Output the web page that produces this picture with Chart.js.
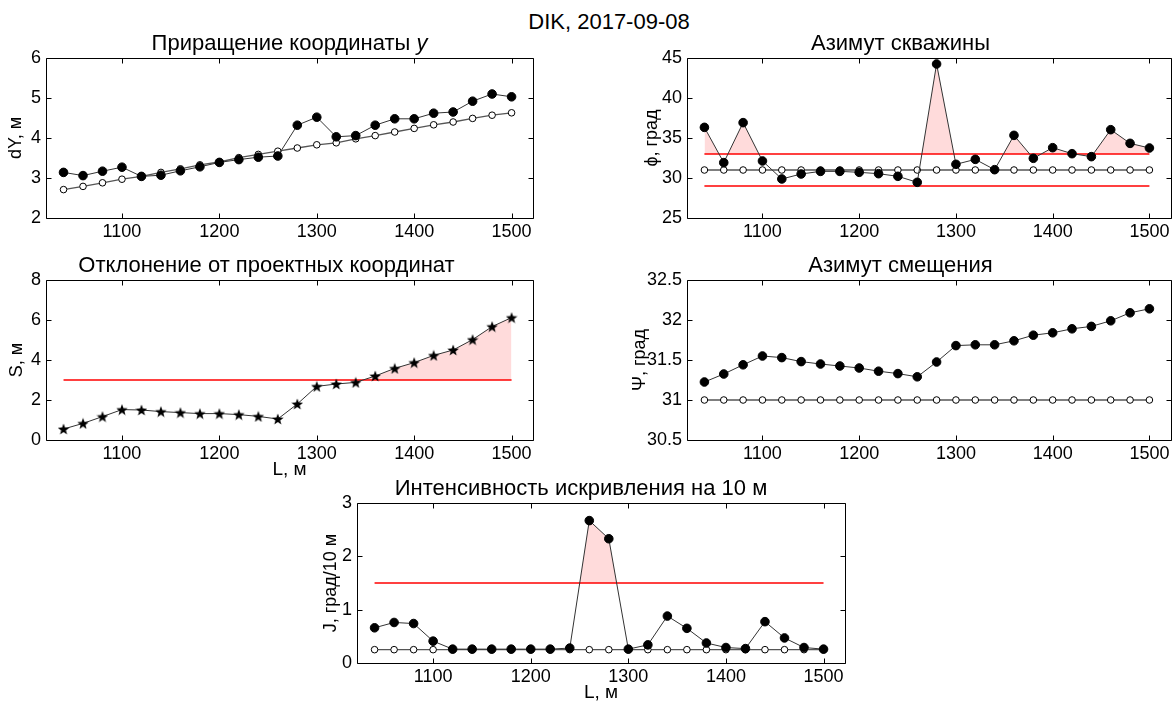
<!DOCTYPE html>
<html>
<head>
<meta charset="utf-8">
<script src="https://cdn.jsdelivr.net/npm/chart.js@4/dist/chart.umd.min.js"></script>
<style>
  html, body { margin: 0; padding: 0; background: #fff; }
  body { width: 1176px; height: 704px; position: relative; overflow: hidden; }
  canvas { position: absolute; }
  #mainTitle {
    position: absolute; left: 409px; top: 10px; width: 400px;
    text-align: center; font: 22px 'Liberation Sans', Arial, sans-serif;
    line-height: 24px; color: #000;
  }
</style>
</head>
<body>
<div id="mainTitle">DIK, 2017-09-08</div>
<canvas id="c1"></canvas>
<canvas id="c2"></canvas>
<canvas id="c3"></canvas>
<canvas id="c4"></canvas>
<canvas id="c5"></canvas>
<script>
// depth along the hole, m
const depth = [1040, 1060, 1080, 1100, 1120, 1140, 1160, 1180, 1200, 1220, 1240, 1260,
               1280, 1300, 1320, 1340, 1360, 1380, 1400, 1420, 1440, 1460, 1480, 1500];
const xTicks = [1100, 1200, 1300, 1400, 1500];

// increment of y coordinate, m
const dyActual = [3.14, 3.06, 3.17, 3.27, 3.04, 3.07, 3.18, 3.28, 3.39, 3.46, 3.52, 3.55,
                  4.32, 4.52, 4.03, 4.06, 4.32, 4.48, 4.48, 4.62, 4.65, 4.92, 5.10, 5.03];
const dyDesign = [2.71, 2.79, 2.88, 2.97, 3.04, 3.14, 3.23, 3.33, 3.40, 3.51, 3.59, 3.67,
                  3.75, 3.83, 3.88, 3.98, 4.06, 4.15, 4.24, 4.33, 4.40, 4.49, 4.57, 4.63];
const dyTicks = [2, 3, 4, 5, 6];

// hole azimuth, deg
const azActual = [36.33, 31.92, 36.92, 32.13, 29.88, 30.50, 30.83, 30.83, 30.71, 30.54, 30.21, 29.46,
                  44.25, 31.71, 32.33, 31.04, 35.33, 32.46, 33.79, 33.04, 32.67, 36.04, 34.33, 33.75];
const azDesign = [31, 31, 31, 31, 31, 31, 31, 31, 31, 31, 31, 31,
                  31, 31, 31, 31, 31, 31, 31, 31, 31, 31, 31, 31];
const azLow = 29;
const azHigh = 33;
const azTicks = [25, 30, 35, 40, 45];

// deviation from design coordinates, m
const sActual = [0.55, 0.83, 1.17, 1.52, 1.50, 1.42, 1.37, 1.32, 1.32, 1.27, 1.18, 1.05,
                 1.80, 2.68, 2.80, 2.88, 3.20, 3.58, 3.87, 4.23, 4.50, 5.02, 5.67, 6.12];
const sLimit = 3;
const sTicks = [0, 2, 4, 6, 8];

// displacement azimuth, deg
const psiActual = [31.225, 31.325, 31.44, 31.55, 31.53, 31.48, 31.45, 31.425, 31.40, 31.36, 31.33, 31.29,
                   31.475, 31.68, 31.69, 31.69, 31.74, 31.81, 31.84, 31.89, 31.92, 31.99, 32.09, 32.14];
const psiDesign = [31, 31, 31, 31, 31, 31, 31, 31, 31, 31, 31, 31,
                   31, 31, 31, 31, 31, 31, 31, 31, 31, 31, 31, 31];
const psiTicks = [30.5, 31, 31.5, 32, 32.5];

// dogleg intensity per 10 m
const jActual = [0.66, 0.76, 0.74, 0.41, 0.26, 0.26, 0.26, 0.26, 0.26, 0.26, 0.28, 2.67,
                 2.33, 0.26, 0.34, 0.88, 0.65, 0.375, 0.29, 0.27, 0.775, 0.47, 0.29, 0.26];
const jDesign = [0.25, 0.25, 0.25, 0.25, 0.25, 0.25, 0.25, 0.25, 0.25, 0.25, 0.25, 0.25,
                 0.25, 0.25, 0.25, 0.25, 0.25, 0.25, 0.25, 0.25, 0.25, 0.25, 0.25, 0.25];
const jLimit = 1.5;
const jTicks = [0, 1, 2, 3];

const FONT = "'Liberation Sans', Arial, sans-serif";
const PINK = 'rgba(255, 0, 0, 0.14)';
Chart.defaults.font.family = FONT;
Chart.defaults.color = '#000';

const pts = (vals) => depth.map((x, i) => ({ x, y: vals[i] }));
const limitLine = (v) => [{ x: depth[0], y: v }, { x: depth[depth.length - 1], y: v }];
const plainNum = (v) => String(v);

// filled pentagram marker
function makeStar(size) {
  const c = document.createElement('canvas');
  c.width = size; c.height = size;
  const g = c.getContext('2d');
  const cx = size / 2, cy = size / 2 + 0.6, ro = size / 2, ri = ro * 0.42;
  g.beginPath();
  for (let i = 0; i < 10; i++) {
    const r = i % 2 ? ri : ro;
    const a = -Math.PI / 2 + i * Math.PI / 5;
    g.lineTo(cx + r * Math.cos(a), cy + r * Math.sin(a));
  }
  g.closePath();
  g.fillStyle = '#000';
  g.fill();
  return c;
}
const starMarker = makeStar(12);

// axes box with inward ticks on all four sides
const frame = {
  id: 'frame',
  afterDatasetsDraw(chart) {
    const { ctx, chartArea: a, scales: { x, y } } = chart;
    const L = Math.round(a.left) + 0.5, R = Math.round(a.right) + 0.5;
    const T = Math.round(a.top) + 0.5, B = Math.round(a.bottom) + 0.5;
    ctx.save();
    ctx.strokeStyle = '#000';
    ctx.lineWidth = 1;
    ctx.beginPath();
    x.ticks.forEach(t => {
      const px = Math.round(x.getPixelForValue(t.value)) + 0.5;
      ctx.moveTo(px, B); ctx.lineTo(px, B - 5);
      ctx.moveTo(px, T); ctx.lineTo(px, T + 5);
    });
    y.ticks.forEach(t => {
      const py = Math.round(y.getPixelForValue(t.value)) + 0.5;
      ctx.moveTo(L, py); ctx.lineTo(L + 5, py);
      ctx.moveTo(R, py); ctx.lineTo(R - 5, py);
    });
    ctx.rect(L, T, R - L, B - T);
    ctx.stroke();
    ctx.restore();
  }
};

// panel title with an optional italic tail, centred over the axes
const panelTitle = {
  id: 'panelTitle',
  afterDraw(chart, args, opts) {
    if (!opts.parts) return;
    const { ctx, chartArea: a } = chart;
    ctx.save();
    ctx.fillStyle = '#000';
    ctx.textBaseline = 'middle';
    const fonts = opts.parts.map(p => (p.italic ? 'italic ' : '') + '22px ' + FONT);
    const widths = opts.parts.map((p, i) => { ctx.font = fonts[i]; return ctx.measureText(p.text).width; });
    let x = (a.left + a.right) / 2 - widths.reduce((s, w) => s + w, 0) / 2;
    const y = a.top - 14;
    opts.parts.forEach((p, i) => {
      ctx.font = fonts[i];
      ctx.textAlign = 'left';
      ctx.fillText(p.text, x, y);
      x += widths[i];
    });
    ctx.restore();
  }
};

function actualSet(vals, extra) {
  return Object.assign({
    data: pts(vals),
    borderColor: '#333',
    borderWidth: 1,
    pointStyle: 'circle',
    pointRadius: 4.3,
    pointBackgroundColor: '#000',
    pointBorderColor: '#000',
    pointBorderWidth: 1,
    fill: false,
    tension: 0
  }, extra || {});
}

function designSet(vals) {
  return {
    data: pts(vals),
    borderColor: '#555',
    borderWidth: 1.3,
    pointStyle: 'circle',
    pointRadius: 3.3,
    pointBackgroundColor: '#fff',
    pointBorderColor: '#000',
    pointBorderWidth: 1,
    fill: false,
    tension: 0
  };
}

function limitSet(v) {
  return {
    data: limitLine(v),
    borderColor: '#ff0000',
    borderWidth: 1.3,
    pointRadius: 0,
    fill: false
  };
}

function makePanel(id, box, title, yTitle, yTicks, datasets, xTitle) {
  const cv = document.getElementById(id);
  cv.width = box.w; cv.height = box.h;
  cv.style.left = box.left + 'px';
  cv.style.top = box.top + 'px';
  const rich = Array.isArray(title);
  return new Chart(cv, {
    type: 'line',
    data: { datasets },
    options: {
      responsive: false,
      animation: false,
      events: [],
      layout: { padding: { left: 0, right: box.right, top: rich ? 30 : 0, bottom: 0 } },
      plugins: {
        legend: { display: false },
        tooltip: { enabled: false },
        panelTitle: { parts: rich ? title : null },
        title: {
          display: !rich,
          text: rich ? '' : title,
          color: '#000',
          font: { size: 22, weight: 'normal', family: FONT },
          padding: { top: 2.8, bottom: 0.8 }
        }
      },
      scales: {
        x: {
          type: 'linear',
          min: 1022,
          max: 1522,
          grid: { display: false, drawTicks: false },
          border: { display: false },
          afterBuildTicks: (s) => { s.ticks = xTicks.map(v => ({ value: v })); },
          afterFit: (s) => { s.height = box.xH; },
          ticks: { padding: 3, font: { size: 18 }, color: '#000', maxRotation: 0, callback: plainNum },
          title: {
            display: !!xTitle,
            text: xTitle || '',
            color: '#000',
            font: { size: 19 },
            padding: { top: 0, bottom: 0.6 }
          }
        },
        y: {
          type: 'linear',
          min: yTicks[0],
          max: yTicks[yTicks.length - 1],
          grid: { display: false, drawTicks: false },
          border: { display: false },
          afterBuildTicks: (s) => { s.ticks = yTicks.map(v => ({ value: v })); },
          afterFit: (s) => { s.width = box.yW; },
          ticks: { padding: 5, font: { size: 18 }, color: '#000', callback: plainNum },
          title: {
            display: true,
            text: yTitle,
            color: '#000',
            font: { size: 18 },
            padding: { top: box.yPad, bottom: 0 }
          }
        }
      }
    },
    plugins: [frame, panelTitle]
  });
}

makePanel('c1', { left: 0, top: 28, w: 553, h: 216, right: 20, yW: 46, xH: 26, yPad: 5 },
  [{ text: 'Приращение координаты ' }, { text: 'y', italic: true }], 'dY, м', dyTicks,
  [actualSet(dyActual), designSet(dyDesign)]);

makePanel('c2', { left: 627, top: 28, w: 549, h: 216, right: 2, yW: 60, xH: 26, yPad: 14 },
  'Азимут скважины', 'ϕ, град', azTicks,
  [actualSet(azActual, { fill: { target: { value: azHigh }, above: PINK, below: 'rgba(0,0,0,0)' } }),
   designSet(azDesign), limitSet(azHigh), limitSet(azLow)]);

makePanel('c3', { left: 0, top: 250, w: 553, h: 232, right: 20, yW: 46, xH: 42, yPad: 6 },
  'Отклонение от проектных координат', 'S, м', sTicks,
  [actualSet(sActual, { pointStyle: starMarker, pointRadius: 6,
     fill: { target: { value: sLimit }, above: PINK, below: 'rgba(0,0,0,0)' } }),
   limitSet(sLimit)], 'L, м');

makePanel('c4', { left: 627, top: 250, w: 549, h: 216, right: 2, yW: 60, xH: 26, yPad: 2 },
  'Азимут смещения', 'Ψ, град', psiTicks,
  [actualSet(psiActual), designSet(psiDesign)]);

makePanel('c5', { left: 317, top: 473, w: 548, h: 232, right: 20, yW: 40, xH: 42, yPad: 3 },
  'Интенсивность искривления на 10 м', 'J, град/10 м', jTicks,
  [actualSet(jActual, { fill: { target: { value: jLimit }, above: PINK, below: 'rgba(0,0,0,0)' } }),
   designSet(jDesign), limitSet(jLimit)], 'L, м');
</script>
</body>
</html>
